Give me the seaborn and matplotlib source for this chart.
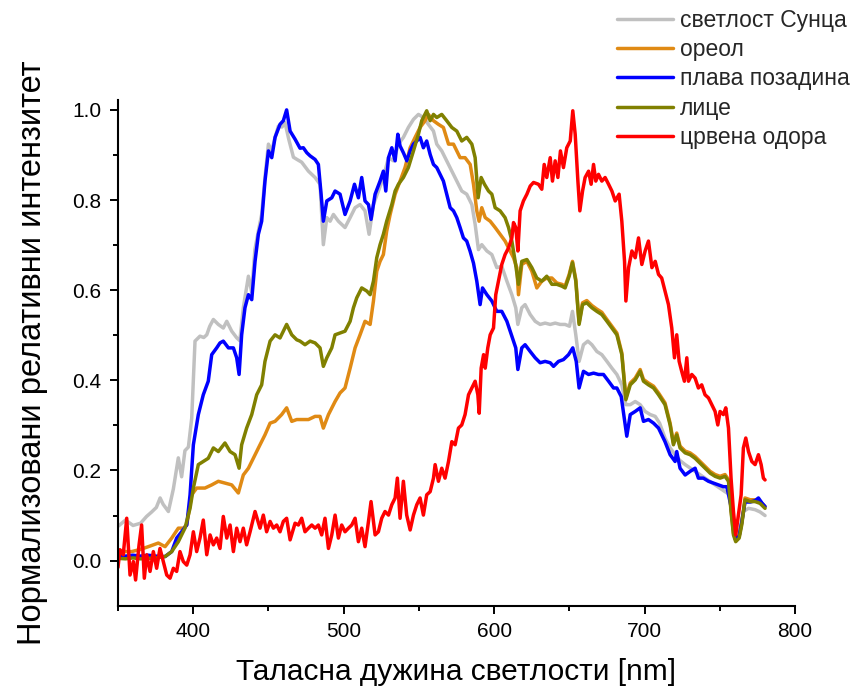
import matplotlib
matplotlib.use("Agg")
import matplotlib.pyplot as plt
from matplotlib.ticker import MultipleLocator, FixedLocator
import seaborn as sns

# ---- spectra (wavelength in nm, normalized intensity) ----
wl_sun = [350, 355, 360, 365, 369, 372.4, 375.5, 378, 380, 383.5, 386.8, 390.1, 392.3, 394.5, 396.8,
          399, 401.2, 404.5, 407, 409, 411, 413.4, 416.7, 420, 422.3, 425.6, 429, 431, 433.3, 436.7,
          438.9, 441, 443.3, 445.5, 448, 450, 452.2, 454.5, 456.6, 459, 461, 463.5, 466.6, 469, 472.1,
          476.6, 481, 484.3, 486.5, 488.8, 491, 493.2, 496.5, 500.9, 504.3, 507.6, 510.9, 514.2, 516.9,
          519.8, 523.1, 526.4, 529.8, 533.1, 536.4, 539.7, 543, 546.4, 549.7, 553, 556.3, 559.7, 561.9,
          565.2, 568.5, 571.9, 575.2, 578.5, 581.8, 585.2, 587.4, 589.6, 591.8, 595.2, 598.5, 601.8,
          605.1, 608.5, 611.8, 614.4, 615.8, 618.4, 620.6, 624, 627.3, 630.6, 633.9, 637.3, 640.6,
          643.9, 647.2, 650.1, 652.1, 654.3, 656.5, 659.4, 662.3, 665, 668.3, 671.6, 675, 678.3, 681.6,
          684.9, 687.6, 690.5, 693.8, 697.1, 700.4, 703.8, 707.1, 710, 713.6, 717, 720.3, 723.6, 727,
          733.6, 740.2, 746.9, 753.5, 756.9, 759.1, 760.6, 763.5, 765.7, 769.1, 773.5, 776.8, 780.1]
sun = [0.076, 0.090, 0.078, 0.083, 0.098, 0.108, 0.118, 0.139, 0.125, 0.109, 0.159, 0.228, 0.186, 0.244,
       0.252, 0.316, 0.487, 0.498, 0.495, 0.501, 0.520, 0.535, 0.524, 0.516, 0.531, 0.509, 0.494, 0.488,
       0.561, 0.631, 0.595, 0.690, 0.731, 0.768, 0.860, 0.924, 0.909, 0.940, 0.964, 0.962, 0.972, 0.935,
       0.895, 0.890, 0.884, 0.864, 0.850, 0.835, 0.701, 0.761, 0.753, 0.768, 0.753, 0.739, 0.761, 0.783,
       0.790, 0.776, 0.724, 0.790, 0.820, 0.850, 0.894, 0.887, 0.924, 0.939, 0.961, 0.979, 0.990, 0.983,
       0.968, 0.953, 0.924, 0.909, 0.887, 0.864, 0.842, 0.820, 0.813, 0.790, 0.746, 0.690, 0.701, 0.687,
       0.679, 0.650, 0.653, 0.620, 0.590, 0.561, 0.524, 0.561, 0.568, 0.546, 0.531, 0.524, 0.527, 0.524,
       0.527, 0.524, 0.524, 0.520, 0.553, 0.501, 0.442, 0.479, 0.487, 0.479, 0.464, 0.457, 0.442, 0.427,
       0.413, 0.390, 0.346, 0.346, 0.353, 0.346, 0.331, 0.324, 0.320, 0.305, 0.272, 0.250, 0.235, 0.222,
       0.213, 0.198, 0.183, 0.168, 0.153, 0.146, 0.087, 0.050, 0.072, 0.109, 0.116, 0.113, 0.108, 0.100]

wl_halo = [350, 355, 359.1, 365, 370.2, 376.8, 381.3, 385.7, 390.1, 393.4, 395.7, 399, 402.3, 407.8,
           412.3, 416.7, 421.1, 425.6, 430, 433.3, 436.7, 441.1, 444.4, 447.7, 451.1, 454.4, 458.8,
           462.1, 465.5, 468.8, 472.1, 476.6, 481, 484.3, 486.5, 489.9, 494.3, 497.6, 500.9, 504.3,
           507.6, 510.9, 514.2, 517.6, 519.8, 522, 524.2, 526.4, 528.6, 530.9, 534.2, 537.5, 540.8,
           544.2, 547.5, 550.8, 554.1, 556.3, 559.7, 563, 566.3, 569.7, 573, 575.2, 577.4, 580.7, 584.1,
           586.3, 588.5, 590, 591.8, 594.1, 597.4, 600.7, 604, 607.3, 609.6, 612.9, 615.1, 616.2, 618.4,
           621.8, 625.1, 628.4, 631.7, 635, 638.4, 641.7, 645, 647.2, 649.9, 652.1, 654.3, 656.5, 658.8,
           661.6, 665, 668.3, 671.6, 675, 678.3, 681.6, 684.9, 687.6, 690.5, 693.8, 697.1, 699.3, 702.6,
           706, 709.3, 713.6, 717, 719.2, 721.4, 723.6, 727, 730.3, 733.6, 736.9, 740.2, 743.6, 746.9,
           750.2, 753.5, 755.8, 757.5, 759.1, 760.6, 762.9, 764.6, 766.8, 770.2, 773.5, 776.8, 780.1]
halo = [0.024, 0.020, 0.020, 0.025, 0.031, 0.039, 0.031, 0.050, 0.072, 0.072, 0.079, 0.146, 0.161, 0.161,
        0.168, 0.176, 0.172, 0.168, 0.150, 0.190, 0.205, 0.235, 0.257, 0.279, 0.305, 0.309, 0.324, 0.339,
        0.309, 0.313, 0.313, 0.313, 0.320, 0.320, 0.294, 0.324, 0.353, 0.372, 0.383, 0.427, 0.472, 0.501,
        0.531, 0.524, 0.576, 0.642, 0.664, 0.679, 0.731, 0.768, 0.813, 0.842, 0.872, 0.916, 0.939, 0.961,
        0.976, 0.990, 0.976, 0.968, 0.961, 0.924, 0.924, 0.909, 0.894, 0.894, 0.879, 0.835, 0.776, 0.753,
        0.783, 0.761, 0.753, 0.739, 0.724, 0.709, 0.694, 0.672, 0.650, 0.590, 0.657, 0.664, 0.642, 0.605,
        0.620, 0.627, 0.627, 0.616, 0.613, 0.609, 0.635, 0.664, 0.624, 0.528, 0.572, 0.577, 0.566, 0.558,
        0.551, 0.535, 0.520, 0.505, 0.461, 0.361, 0.394, 0.405, 0.424, 0.402, 0.394, 0.387, 0.372, 0.350,
        0.305, 0.261, 0.283, 0.254, 0.243, 0.239, 0.231, 0.220, 0.209, 0.198, 0.191, 0.187, 0.191, 0.180,
        0.113, 0.061, 0.046, 0.054, 0.083, 0.139, 0.135, 0.135, 0.131, 0.120]

wl_blue = [350, 355, 360, 365, 370, 375, 381.3, 385.7, 389, 392.3, 395.7, 397.9, 400.1, 403.4, 406.7, 410,
           412.3, 415.6, 417.8, 420, 423.4, 426.7, 428.9, 430.5, 432.2, 434.4, 436.7, 438.9, 441.1,
           443.3, 445.5, 447.7, 450, 452.2, 454.4, 457.7, 459.9, 462.1, 464.4, 467.7, 471, 473.2, 475.5,
           477.7, 481, 483.2, 485, 486.5, 488.8, 492.1, 494.3, 497.6, 500.9, 504.3, 507.2, 509.8, 512,
           514.2, 516.5, 518.2, 520.9, 524.2, 526.4, 528, 529.8, 532, 534.2, 536, 537.5, 539.7, 542,
           544.2, 546.4, 548.6, 550.8, 553, 555.2, 557.5, 559.7, 561.9, 564.1, 566.3, 568.5, 570.8, 573,
           575.2, 577.4, 579.6, 581.8, 584, 586.3, 588.5, 590.7, 592.3, 595.2, 598.5, 601.8, 605.1,
           608.5, 610.7, 612.9, 614.4, 615.8, 618.4, 620.6, 624, 627.3, 630.6, 633.9, 637.3, 639.5,
           642.8, 646.1, 649.5, 652.3, 654.6, 656.5, 659.4, 662.8, 666.1, 669.4, 672.7, 676.1, 679.4,
           681.6, 684.5, 686.2, 688.2, 690.5, 693.8, 697.1, 699.3, 702.6, 706, 709.3, 713.6, 717, 720.3,
           721.4, 723.6, 727, 730.3, 733.6, 735.8, 739.1, 742.5, 745.8, 749.1, 752.4, 754.7, 757.5,
           759.1, 760.6, 762.9, 764.6, 766.8, 770.2, 773.5, 775.7, 778, 780.1]
blue = [0.012, 0.010, 0.012, 0.010, 0.012, 0.010, 0.009, 0.020, 0.050, 0.064, 0.079, 0.146, 0.257, 0.324,
        0.368, 0.398, 0.457, 0.472, 0.483, 0.487, 0.472, 0.472, 0.450, 0.413, 0.501, 0.561, 0.590, 0.579,
        0.664, 0.724, 0.753, 0.842, 0.909, 0.894, 0.939, 0.968, 0.976, 1.000, 0.953, 0.935, 0.915, 0.916,
        0.905, 0.898, 0.890, 0.879, 0.813, 0.753, 0.798, 0.805, 0.820, 0.813, 0.768, 0.798, 0.835, 0.805,
        0.850, 0.798, 0.790, 0.757, 0.813, 0.842, 0.864, 0.820, 0.894, 0.916, 0.887, 0.946, 0.920, 0.905,
        0.887, 0.909, 0.924, 0.931, 0.939, 0.916, 0.931, 0.901, 0.879, 0.872, 0.857, 0.842, 0.813, 0.783,
        0.776, 0.761, 0.739, 0.716, 0.709, 0.687, 0.660, 0.620, 0.568, 0.605, 0.590, 0.576, 0.553, 0.553,
        0.531, 0.509, 0.487, 0.472, 0.424, 0.472, 0.479, 0.464, 0.450, 0.439, 0.442, 0.439, 0.431, 0.442,
        0.446, 0.457, 0.472, 0.442, 0.383, 0.420, 0.413, 0.416, 0.413, 0.413, 0.398, 0.383, 0.383, 0.364,
        0.324, 0.276, 0.324, 0.331, 0.339, 0.309, 0.313, 0.305, 0.294, 0.264, 0.235, 0.220, 0.242, 0.205,
        0.190, 0.198, 0.205, 0.183, 0.183, 0.176, 0.172, 0.168, 0.164, 0.164, 0.120, 0.070, 0.045, 0.055,
        0.085, 0.130, 0.130, 0.133, 0.139, 0.128, 0.120]

wl_face = [350, 355, 360, 365, 370, 375, 381.3, 385.7, 390.1, 394.5, 397.9, 400.1, 403.4, 406.7, 410,
           413.4, 416.7, 421.1, 424.5, 427.8, 430.5, 432.2, 435.5, 438.9, 442.2, 445.5, 447.7, 451.1,
           454.4, 457.7, 462.1, 465.5, 468.8, 471, 474.3, 477.7, 481, 484.3, 486.5, 488.8, 492.1, 494.3,
           497.6, 500.9, 504.3, 506.5, 508.7, 512, 515.4, 517.6, 519.8, 522, 524.2, 526.4, 528.6, 532,
           534.2, 536.4, 539.7, 543, 546.4, 549.7, 551.9, 555.2, 557.5, 559.7, 561.9, 565.2, 568.5, 571.9,
           575.2, 578.5, 581.8, 585.2, 587.4, 589.4, 591.4, 593.6, 596.3, 598.5, 600.7, 604, 607.3, 609.6,
           611.8, 614, 616.2, 618.4, 621.8, 625.1, 628.4, 631.7, 635, 638.4, 641.7, 645, 647.2, 649.9,
           652.1, 654.3, 656.5, 658.8, 661.6, 665, 668.3, 671.6, 675, 678.3, 681.6, 684.9, 687.6, 690.5,
           693.8, 697.1, 699.3, 702.6, 706, 709.3, 713.6, 717, 719.2, 721.4, 723.6, 727, 730.3, 733.6,
           736.9, 740.2, 743.6, 746.9, 750.2, 753.5, 755.8, 757.5, 759.1, 760.6, 762.9, 764.6, 766.8,
           770.2, 773.5, 776.8, 780.1]
face = [0.005, 0.004, 0.006, 0.004, 0.005, 0.006, 0.009, 0.020, 0.042, 0.072, 0.116, 0.161, 0.213, 0.220,
        0.227, 0.250, 0.242, 0.261, 0.242, 0.235, 0.205, 0.257, 0.294, 0.324, 0.368, 0.390, 0.442, 0.487,
        0.501, 0.494, 0.524, 0.501, 0.490, 0.487, 0.479, 0.487, 0.483, 0.472, 0.431, 0.450, 0.472, 0.501,
        0.505, 0.509, 0.531, 0.561, 0.583, 0.605, 0.598, 0.590, 0.620, 0.672, 0.701, 0.724, 0.753, 0.790,
        0.820, 0.835, 0.850, 0.872, 0.909, 0.946, 0.976, 0.998, 0.976, 0.990, 0.983, 0.990, 0.976, 0.961,
        0.953, 0.931, 0.939, 0.924, 0.894, 0.805, 0.850, 0.835, 0.820, 0.813, 0.783, 0.776, 0.761, 0.739,
        0.709, 0.664, 0.613, 0.664, 0.668, 0.650, 0.627, 0.620, 0.631, 0.613, 0.613, 0.609, 0.605, 0.631,
        0.661, 0.620, 0.524, 0.568, 0.572, 0.561, 0.553, 0.546, 0.531, 0.516, 0.501, 0.457, 0.357, 0.390,
        0.401, 0.420, 0.398, 0.390, 0.383, 0.368, 0.346, 0.301, 0.257, 0.279, 0.250, 0.239, 0.235, 0.227,
        0.216, 0.205, 0.194, 0.187, 0.183, 0.187, 0.176, 0.109, 0.057, 0.042, 0.050, 0.079, 0.135, 0.131,
        0.131, 0.127, 0.116]

wl_red = [350, 351.3, 353.5, 355.8, 358, 360.2, 361.7, 364, 365.7, 367.5, 369.1, 371.3, 373.5, 375.7,
          377.9, 380.1, 382.4, 384.6, 386.8, 389, 391.2, 393.4, 395.7, 397.9, 400.1, 402.3, 404.5, 406.7,
          409, 411.2, 413.4, 415.6, 417.8, 420, 422.3, 424.5, 426.7, 428.9, 431.1, 433.3, 435.5, 437.8,
          441.1, 444.4, 446.6, 448.8, 451.1, 453.3, 455.5, 457.7, 459.9, 462.1, 464.4, 467.7, 469.9,
          472.1, 474.3, 476.6, 478.8, 481, 483.2, 485.4, 487.6, 489.9, 492.1, 494.3, 496.5, 498.7, 500.9,
          503.2, 505.4, 507.6, 509.8, 512, 514.2, 516.5, 518.2, 520.9, 523.1, 525.3, 527.5, 529.8, 532,
          534.2, 535.7, 537.5, 539.7, 541.9, 544.2, 546.4, 548.6, 550.8, 553, 555.2, 557.5, 559.7, 560.8,
          563, 565.2, 567.4, 569.7, 571.9, 574.1, 576.3, 578.5, 580.7, 583, 585.2, 587.4, 589.2, 590.1,
          591.4, 593, 594.1, 595.8, 597.4, 599.6, 601.1, 602.9, 605.1, 607.3, 609.6, 611.8, 612.9, 614.4,
          615.8, 617.3, 619.5, 621.8, 624, 626.2, 629.5, 631.7, 633.3, 635, 637.3, 638.8, 640.6, 642.4,
          644.1, 646.1, 648.3, 650.6, 652.3, 653.9, 655.7, 657, 658.8, 660.5, 662.8, 664.5, 666.1, 667.6,
          669.4, 671.6, 673.8, 676.1, 678.3, 680.5, 683.1, 684.9, 686.7, 687.6, 689.4, 691.6, 693.8, 696,
          698.2, 700.4, 702.6, 704.9, 707.1, 709.3, 711.4, 713.6, 715.9, 718.1, 719.9, 721.4, 723, 724.7,
          726.5, 728.1, 729.2, 731.4, 733.6, 735.8, 738, 740.2, 742.5, 744.7, 746.9, 748.7, 750.2, 752.4,
          754, 755.8, 757.5, 759.1, 760.6, 762.4, 764.2, 765.7, 767.3, 769.1, 771.3, 773.5, 775.7, 777.5,
          779, 780.1]
red = [-0.015, 0.024, 0.013, 0.094, -0.032, -0.002, -0.043, 0.035, 0.079, -0.039, 0.013, -0.024, 0.020,
       -0.017, 0.027, -0.002, -0.032, -0.039, -0.017, -0.024, 0.020, -0.002, -0.010, 0.013, 0.064, 0.020,
       0.050, 0.090, 0.013, 0.057, 0.035, 0.050, 0.027, 0.098, 0.050, 0.079, 0.020, 0.072, 0.042, 0.072,
       0.035, 0.064, 0.109, 0.072, 0.101, 0.064, 0.087, 0.072, 0.079, 0.064, 0.087, 0.094, 0.046, 0.083,
       0.079, 0.094, 0.064, 0.072, 0.079, 0.072, 0.079, 0.057, 0.094, 0.027, 0.057, 0.101, 0.050, 0.079,
       0.064, 0.072, 0.079, 0.094, 0.042, 0.072, 0.031, 0.087, 0.131, 0.057, 0.064, 0.094, 0.109, 0.101,
       0.124, 0.139, 0.183, 0.094, 0.176, 0.101, 0.068, 0.101, 0.124, 0.139, 0.101, 0.146, 0.153, 0.183,
       0.213, 0.176, 0.205, 0.183, 0.220, 0.264, 0.257, 0.294, 0.301, 0.324, 0.368, 0.383, 0.398, 0.368,
       0.327, 0.427, 0.457, 0.427, 0.472, 0.501, 0.516, 0.590, 0.620, 0.657, 0.679, 0.694, 0.716, 0.750,
       0.739, 0.687, 0.776, 0.798, 0.813, 0.831, 0.839, 0.835, 0.824, 0.879, 0.850, 0.894, 0.842, 0.887,
       0.850, 0.909, 0.872, 0.916, 0.931, 0.998, 0.946, 0.842, 0.776, 0.820, 0.850, 0.864, 0.835, 0.879,
       0.842, 0.857, 0.842, 0.850, 0.835, 0.820, 0.798, 0.813, 0.753, 0.664, 0.576, 0.650, 0.687, 0.672,
       0.716, 0.657, 0.687, 0.709, 0.650, 0.664, 0.635, 0.627, 0.598, 0.568, 0.516, 0.450, 0.501, 0.442,
       0.420, 0.398, 0.450, 0.398, 0.413, 0.405, 0.383, 0.390, 0.368, 0.361, 0.346, 0.331, 0.301, 0.331,
       0.324, 0.339, 0.294, 0.183, 0.109, 0.057, 0.101, 0.146, 0.250, 0.272, 0.242, 0.220, 0.213, 0.235,
       0.213, 0.183, 0.179]

labels = ["светлост Сунца", "ореол", "плава позадина", "лице", "црвена одора"]
colors = ["#c0c0c0", "#e08a14", "#0000ff", "#808000", "#ff0000"]

x_ticks = [400, 500, 600, 700, 800]
y_ticks = [0.0, 0.2, 0.4, 0.6, 0.8, 1.0]

sns.set_theme(style="ticks")
plt.rcParams["font.family"] = ["Liberation Sans", "DejaVu Sans"]

fig = plt.figure(figsize=(8.6, 6.95), dpi=100)
ax = fig.add_axes([0.1372, 0.1285, 0.7872, 0.7283])

series = [(wl_sun, sun), (wl_halo, halo), (wl_blue, blue), (wl_face, face), (wl_red, red)]
for (xs, ys), lab, col in zip(series, labels, colors):
    sns.lineplot(x=xs, y=ys, ax=ax, color=col, linewidth=2.5, label=lab,
                 estimator=None, sort=False)

ax.set_xlim(350, 800)
ax.set_ylim(-0.1, 1.023)
ax.xaxis.set_major_locator(FixedLocator(x_ticks))
ax.xaxis.set_minor_locator(MultipleLocator(50))
ax.yaxis.set_major_locator(FixedLocator(y_ticks))
ax.yaxis.set_minor_locator(FixedLocator([0.1, 0.3, 0.5, 0.7, 0.9]))
ax.set_xticklabels([str(v) for v in x_ticks])
ax.set_yticklabels([f"{v:.1f}" for v in y_ticks])

sns.despine(ax=ax)
for s in ("left", "bottom"):
    ax.spines[s].set_linewidth(1.5)
    ax.spines[s].set_color("black")
ax.tick_params(which="major", direction="out", length=6, width=1.4, color="black",
               labelsize=15, labelcolor="black", pad=6)
ax.tick_params(which="minor", direction="out", length=3.6, width=1.4, color="black")

ax.set_xlabel("Таласна дужина светлости [nm]", fontsize=21.5, color="black", labelpad=12)
ax.set_ylabel("Нормализовани релативни интензитет", fontsize=23.5, color="black", labelpad=17)

ax.legend(loc="upper left", bbox_to_anchor=(617 / 860, 1 - 9 / 695), bbox_transform=fig.transFigure,
          frameon=False, fontsize=16.5, borderpad=0, borderaxespad=0, handlelength=2.45,
          handletextpad=0.3, labelspacing=0.27)

fig.savefig("out.png", dpi=100)
